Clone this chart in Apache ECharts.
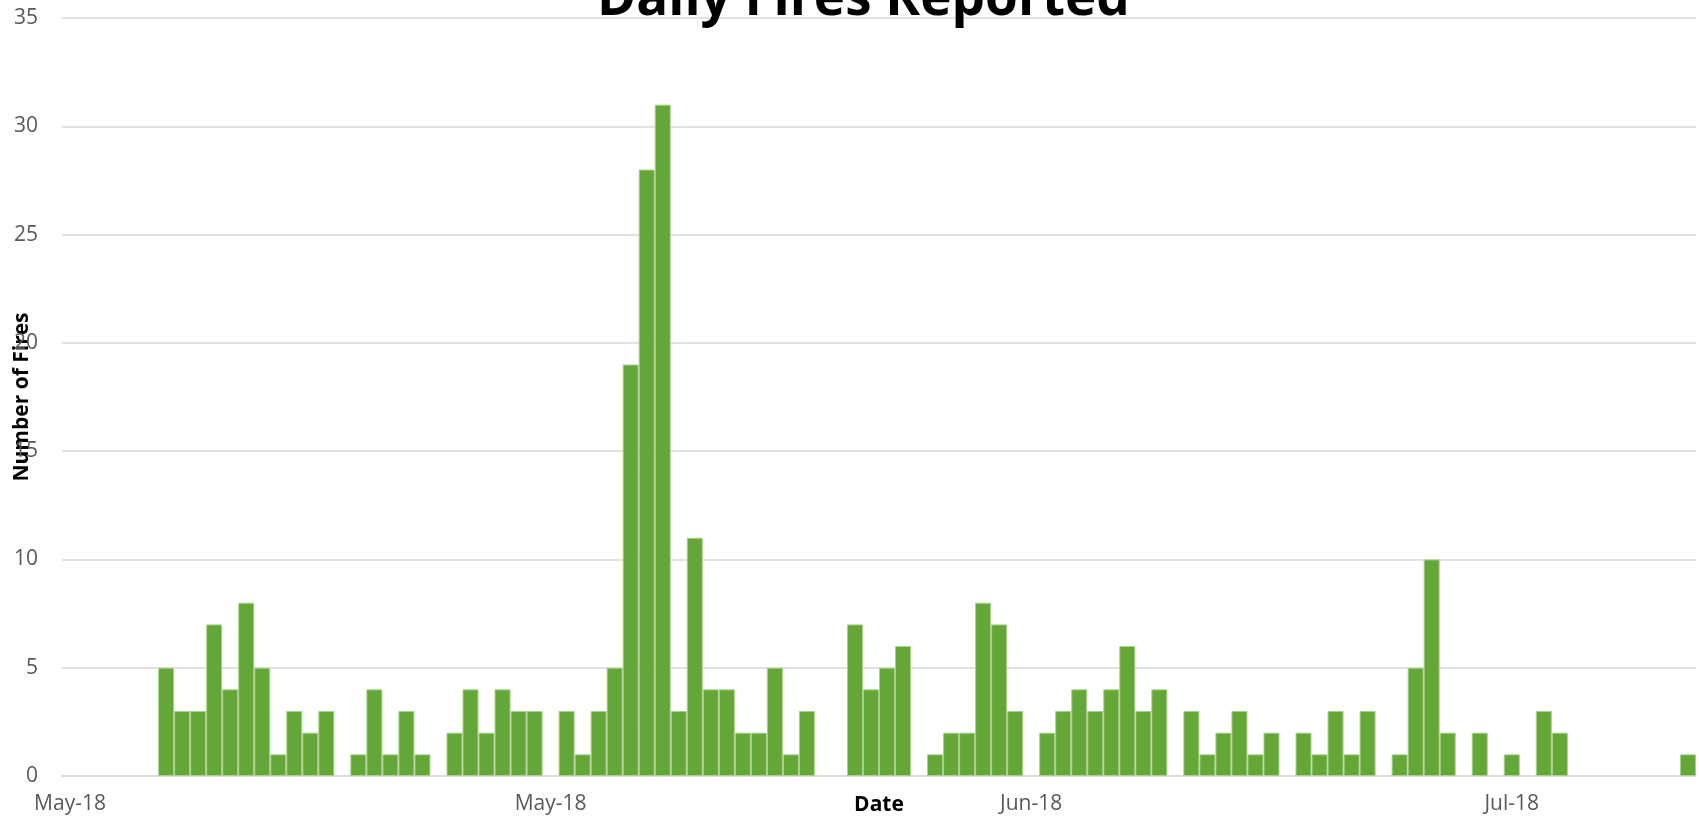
<!DOCTYPE html>
<html>
<head>
<meta charset="utf-8">
<title>Daily Fires Reported</title>
<script src="https://cdn.jsdelivr.net/npm/echarts@6/dist/echarts.min.js"></script>
<style>
    html, body { margin: 0; padding: 0; background: #fff; }
    #chart { width: 1699px; height: 822px; }
</style>
</head>
<body>
<div id="chart"></div>
<script>
    // first day on the date axis, one category per day
    var startDate = '2018-05-01';
    var dayCount = 102;

    // fires reported per day (0 = none reported)
    var fires = [
        0, 0, 0, 0, 0, 0,
        5, 3, 3, 7, 4, 8, 5, 1, 3, 2, 3,
        0,
        1, 4, 1, 3, 1,
        0,
        2, 4, 2, 4, 3, 3,
        0,
        3, 1, 3, 5, 19, 28, 31, 3, 11, 4, 4, 2, 2, 5, 1, 3,
        0, 0,
        7, 4, 5, 6,
        0,
        1, 2, 2, 8, 7, 3,
        0,
        2, 3, 4, 3, 4, 6, 3, 4,
        0,
        3, 1, 2, 3, 1, 2,
        0,
        2, 1, 3, 1, 3,
        0,
        1, 5, 10, 2,
        0, 2, 0, 1, 0,
        3, 2,
        0, 0, 0, 0, 0, 0, 0,
        1
    ];

    var monthNames = ['Jan', 'Feb', 'Mar', 'Apr', 'May', 'Jun', 'Jul', 'Aug', 'Sep', 'Oct', 'Nov', 'Dec'];
    var yTicks = { min: 0, max: 35, step: 5 };

    var days = [];
    var d0 = new Date(startDate + 'T00:00:00');
    for (var i = 0; i < dayCount; i++) {
        var d = new Date(d0.getTime());
        d.setDate(d0.getDate() + i);
        days.push(d);
    }
    var categories = days.map(function (d) {
        return d.getFullYear() + '-' + (d.getMonth() + 1) + '-' + d.getDate();
    });

    function monthLabel(value, idx) {
        var d = days[idx];
        return monthNames[d.getMonth()] + '-' + String(d.getFullYear()).slice(2);
    }

    // days with no fires get no bar at all (avoids a border line on the axis)
    var barData = fires.map(function (v) {
        return v === 0 ? '-' : v;
    });

    var myChart = echarts.init(document.getElementById('chart'));
    var option = {
        backgroundColor: '#fff',
        animation: false,
        title: {
            text: 'Daily Fires Reported',
            left: 592,
            top: -32,
            textStyle: {
                fontFamily: 'Open Sans',
                fontSize: 53,
                fontWeight: 'bold',
                color: '#000'
            }
        },
        grid: {
            left: 62,
            right: 3,
            top: 18,
            bottom: 46,
            outerBoundsMode: 'none',
            containLabel: false
        },
        xAxis: {
            type: 'category',
            data: categories,
            boundaryGap: true,
            name: 'Date',
            nameLocation: 'middle',
            nameGap: 19,
            nameMoveOverlap: false,
            nameTextStyle: {
                fontFamily: 'Open Sans',
                fontSize: 21,
                fontWeight: 'bold',
                color: '#000',
                verticalAlign: 'top'
            },
            axisLine: { lineStyle: { color: '#d9d9d9', width: 1.5 } },
            axisTick: { show: false },
            axisLabel: {
                interval: 29,
                formatter: monthLabel,
                margin: 18,
                fontFamily: 'Open Sans',
                fontSize: 21,
                color: '#595959'
            }
        },
        yAxis: {
            type: 'value',
            min: yTicks.min,
            max: yTicks.max,
            interval: yTicks.step,
            name: 'Number of Fires',
            nameLocation: 'middle',
            nameGap: 29,
            nameMoveOverlap: false,
            nameTextStyle: {
                fontFamily: 'Open Sans',
                fontSize: 21,
                fontWeight: 'bold',
                color: '#000'
            },
            axisLine: { show: false },
            axisTick: { show: false },
            splitLine: { lineStyle: { color: '#d9d9d9', width: 1.5 } },
            axisLabel: {
                margin: 24,
                fontFamily: 'Open Sans',
                fontSize: 21,
                color: '#595959'
            }
        },
        series: [{
            name: 'Fires',
            type: 'bar',
            data: barData,
            barCategoryGap: 0,
            itemStyle: {
                color: '#64a637',
                borderColor: '#a9d18e',
                borderWidth: 1
            }
        }]
    };

    myChart.setOption(option);
    window.onresize = myChart.resize;
</script>
</body>
</html>
